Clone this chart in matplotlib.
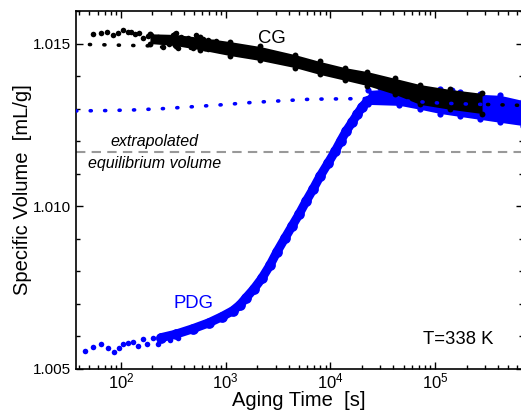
import numpy as np
import matplotlib
matplotlib.use("Agg")
import matplotlib.pyplot as plt
from matplotlib.ticker import LogLocator, LogFormatterSciNotation, MultipleLocator

plt.rcParams['font.family'] = ['Liberation Sans', 'DejaVu Sans']
plt.rcParams['mathtext.default'] = 'regular'

# --- dados ---
# CG: pontos esparsos no inicio
cg_pts_t = [54, 64, 74, 84, 94, 105, 116, 125, 137, 150, 161, 180, 194, 208, 224,
            247, 254, 269, 289, 312, 335, 350, 374, 402, 434, 488, 520, 560, 603,
            676, 673, 751, 808, 869, 936]
cg_pts_v = [1.01529, 1.01533, 1.01537, 1.01525, 1.01533, 1.01541, 1.01535, 1.01537,
            1.01529, 1.01533, 1.01516, 1.01522, 1.01525, 1.01514, 1.01521, 1.01516,
            1.01490, 1.01508, 1.01500, 1.01527, 1.01531, 1.01485, 1.01521, 1.01506,
            1.01516, 1.01485, 1.01527, 1.01508, 1.01514, 1.01482, 1.01511, 1.01504,
            1.01508, 1.01496, 1.01486]
# CG: faixa densa (limites superior e inferior)
cg_band_t = [189, 328, 569, 1099, 2128, 4592, 7940, 13800, 22400, 41400, 71800, 139000, 281000]
cg_band_hi = [1.01530, 1.01528, 1.01519, 1.01506, 1.01491, 1.01466, 1.01445, 1.01426,
              1.01414, 1.01393, 1.01374, 1.01359, 1.01347]
cg_band_lo = [1.01500, 1.01494, 1.01481, 1.01463, 1.01448, 1.01426, 1.01405, 1.01387,
              1.01371, 1.01344, 1.01313, 1.01298, 1.01285]

# PDG: pontos esparsos no inicio
pdg_pts_t = [45, 54, 65, 75, 85, 95, 105, 116, 131, 144, 161, 176, 201, 224, 250,
             269, 294, 321, 350]
pdg_pts_v = [1.00555, 1.00568, 1.00577, 1.00564, 1.00552, 1.00564, 1.00577, 1.00580,
             1.00583, 1.00571, 1.00592, 1.00577, 1.00595, 1.00577, 1.00595, 1.00598,
             1.00589, 1.00604, 1.00595]
# PDG: subida (linha central)
pdg_rise_t = [240, 335, 488, 692, 922, 1170, 1370, 1560, 1860, 2220, 2650, 3090, 3680,
              4300, 5010, 5850, 6820, 7960, 9480, 11100, 12600, 14100, 16100, 18000,
              20000, 22400, 25500]
pdg_rise_v = [1.00596, 1.00607, 1.00624, 1.00642, 1.00661, 1.00679, 1.00697, 1.00718,
              1.00746, 1.00779, 1.00819, 1.00860, 1.00902, 1.00939, 1.00975, 1.01015,
              1.01052, 1.01092, 1.01132, 1.01169, 1.01202, 1.01230, 1.01258, 1.01282,
              1.01304, 1.01322, 1.01334]
# PDG: patamar (limites)
pdg_band_t = [23000, 45700, 71800, 112000, 173000, 269000, 417000, 690000]
pdg_band_hi = [1.01356, 1.01362, 1.01368, 1.01359, 1.01350, 1.01344, 1.01341, 1.01325]
pdg_band_lo = [1.01313, 1.01310, 1.01298, 1.01285, 1.01276, 1.01267, 1.01258, 1.01248]
pdg_out_t = [144000, 152000, 30000]
pdg_out_v = [1.01356, 1.01347, 1.01362]

# ajustes (linhas pontilhadas)
fit_cg_t = [50, 71, 96, 132, 186, 251, 490, 933, 1780, 3390, 6460, 12300, 24000,
            45700, 95500, 214000, 690000]
fit_cg_v = [1.01497, 1.01496, 1.01495, 1.01494, 1.01493, 1.01489, 1.01485, 1.01475,
            1.01463, 1.01445, 1.01426, 1.01405, 1.01377, 1.01353, 1.01325, 1.01314, 1.01310]
fit_pdg_t = [37, 71, 132, 251, 490, 933, 1780, 3390, 6460, 12300, 24000, 45700,
             112000, 214000, 690000]
fit_pdg_v = [1.01293, 1.01294, 1.01296, 1.01300, 1.01306, 1.01312, 1.01319, 1.01324,
             1.01329, 1.01330, 1.01331, 1.01325, 1.01317, 1.01314, 1.01310]

V_EQ = 1.01167

fig = plt.figure(figsize=(5.21, 4.13), dpi=100)
ax = fig.add_axes([76 / 521, 1 - 369 / 413, 446.5 / 521, 358 / 413])

azul = '#0000ff'

# PDG
ax.scatter(pdg_pts_t, pdg_pts_v, s=16, color=azul, lw=0, zorder=2)
ax.plot(pdg_rise_t, pdg_rise_v, color=azul, lw=6.5, solid_capstyle='round', zorder=2)
ax.scatter(pdg_rise_t, pdg_rise_v, s=60, color=azul, lw=0, zorder=2)
ax.fill_between(pdg_band_t, pdg_band_lo, pdg_band_hi, color=azul, lw=0, zorder=2)
ax.scatter(pdg_band_t, pdg_band_hi, s=20, color=azul, lw=0, zorder=2)
ax.scatter(pdg_band_t, pdg_band_lo, s=20, color=azul, lw=0, zorder=2)
ax.scatter(pdg_out_t, pdg_out_v, s=18, color=azul, lw=0, zorder=2)

# CG
ax.scatter(cg_pts_t, cg_pts_v, s=16, color='black', lw=0, zorder=3)
ax.fill_between(cg_band_t, cg_band_lo, cg_band_hi, color='black', lw=0, zorder=3)
ax.scatter(cg_band_t, cg_band_hi, s=18, color='black', lw=0, zorder=3)
ax.scatter(cg_band_t, cg_band_lo, s=18, color='black', lw=0, zorder=3)

# ajustes
ax.plot(fit_cg_t, fit_cg_v, color='black', lw=2.6, ls=(0, (0.3, 3.7)),
        dash_capstyle='round', zorder=4)
ax.plot(fit_pdg_t, fit_pdg_v, color=azul, lw=2.6, ls=(0, (0.3, 3.7)),
        dash_capstyle='round', zorder=4)

ax.axhline(V_EQ, color='#999999', lw=1.5, ls=(0, (4.5, 3)), zorder=1)

ax.set_xscale('log')
ax.set_xlim(37.2, 6.84e5)
ax.set_ylim(1.005, 1.016)

ax.xaxis.set_major_locator(LogLocator(base=10, numticks=10))
ax.xaxis.set_minor_locator(LogLocator(base=10, subs=np.arange(2, 10), numticks=20))
ax.xaxis.set_major_formatter(LogFormatterSciNotation())
ax.yaxis.set_major_locator(MultipleLocator(0.005))
ax.yaxis.set_minor_locator(MultipleLocator(0.001))
ax.yaxis.set_major_formatter(plt.FuncFormatter(lambda v, p: f'{v:.3f}'))

ax.tick_params(which='both', direction='in', top=True, right=True, labelsize=11, width=1)
ax.tick_params(axis='x', which='major', labelsize=12, pad=1.5)
ax.tick_params(which='major', length=5)
ax.tick_params(which='minor', length=3)
for s in ax.spines.values():
    s.set_linewidth(1.2)

ax.set_xlabel('Aging Time  [s]', fontsize=14.5, labelpad=0)
ax.set_ylabel('Specific Volume  [mL/g]', fontsize=14.5, labelpad=1)

ax.text(2770, 1.01515, 'CG', fontsize=13.3, ha='center', va='center')
ax.text(488, 1.00702, 'PDG', fontsize=13.3, color=azul, ha='center', va='center')
ax.text(1.656e5, 1.00592, 'T=338 K', fontsize=13.3, ha='center', va='center')
ax.text(211, 1.01199, 'extrapolated', fontsize=11.5, style='italic', ha='center', va='center')
ax.text(211, 1.01132, 'equilibrium volume', fontsize=11.5, style='italic', ha='center', va='center')

fig.savefig('out.png', dpi=100)
